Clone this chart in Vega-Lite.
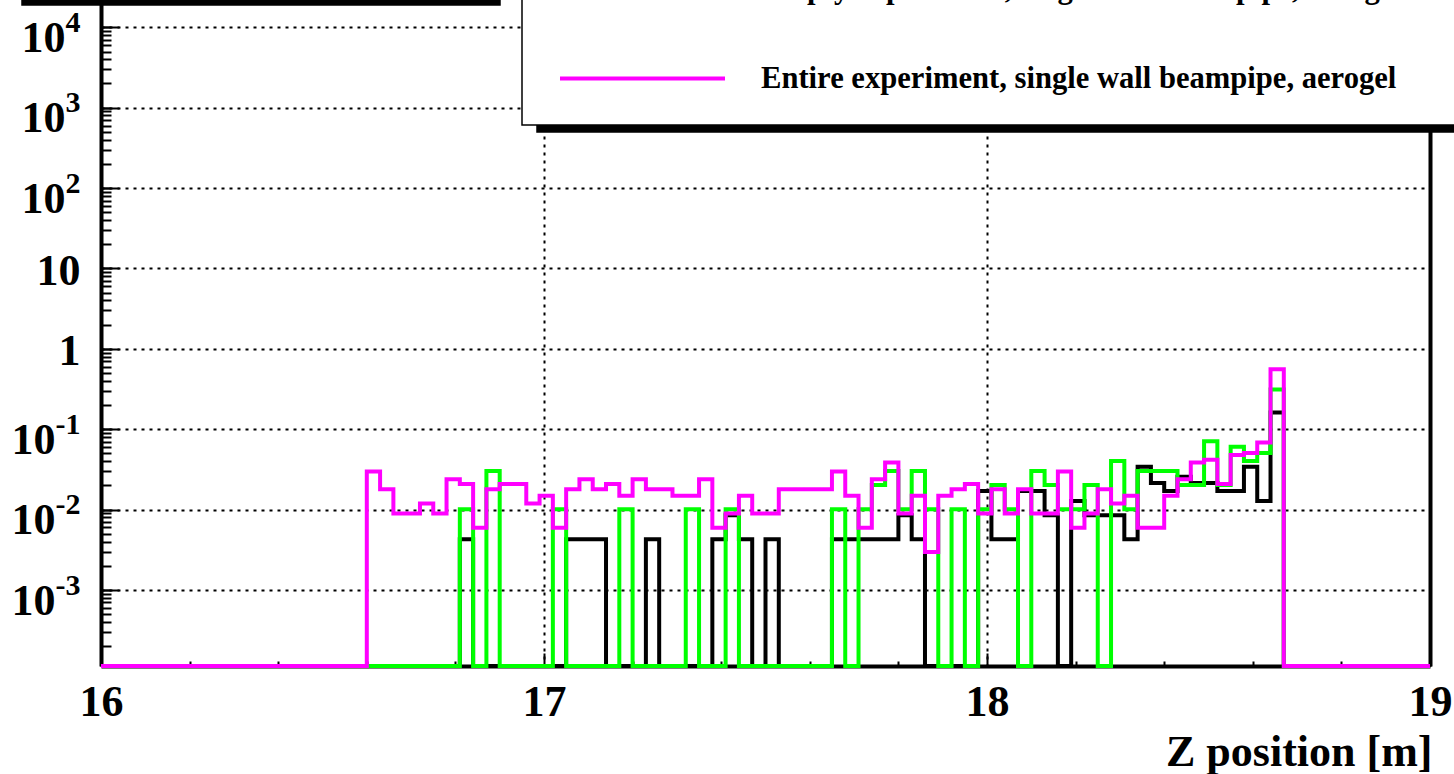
{
"$schema": "https://vega.github.io/schema/vega-lite/v6.json",
"autosize": "none",
"width": 1329,
"height": 666,
"padding": {"left": 101, "top": 0, "right": 24, "bottom": 108},
"background": "white",
"config": {"view": {"stroke": null}, "font": "Liberation Serif", "legend": {"strokeWidth": 1.5}},
"data": {"values": [
{"z":16.00,"s":"k","v":0},{"z":16.03,"s":"k","v":0},{"z":16.06,"s":"k","v":0},{"z":16.09,"s":"k","v":0},{"z":16.12,"s":"k","v":0},{"z":16.15,"s":"k","v":0},{"z":16.18,"s":"k","v":0},{"z":16.21,"s":"k","v":0},{"z":16.24,"s":"k","v":0},{"z":16.27,"s":"k","v":0},
{"z":16.30,"s":"k","v":0},{"z":16.33,"s":"k","v":0},{"z":16.36,"s":"k","v":0},{"z":16.39,"s":"k","v":0},{"z":16.42,"s":"k","v":0},{"z":16.45,"s":"k","v":0},{"z":16.48,"s":"k","v":0},{"z":16.51,"s":"k","v":0},{"z":16.54,"s":"k","v":0},{"z":16.57,"s":"k","v":0},
{"z":16.60,"s":"k","v":0},{"z":16.63,"s":"k","v":0},{"z":16.66,"s":"k","v":0},{"z":16.69,"s":"k","v":0},{"z":16.72,"s":"k","v":0},{"z":16.75,"s":"k","v":0},{"z":16.78,"s":"k","v":0},{"z":16.81,"s":"k","v":0.00427},{"z":16.84,"s":"k","v":0},{"z":16.87,"s":"k","v":0},
{"z":16.90,"s":"k","v":0},{"z":16.93,"s":"k","v":0},{"z":16.96,"s":"k","v":0},{"z":16.99,"s":"k","v":0},{"z":17.02,"s":"k","v":0},{"z":17.05,"s":"k","v":0.00427},{"z":17.08,"s":"k","v":0.00427},{"z":17.11,"s":"k","v":0.00427},{"z":17.14,"s":"k","v":0},{"z":17.17,"s":"k","v":0},
{"z":17.20,"s":"k","v":0},{"z":17.23,"s":"k","v":0.00427},{"z":17.26,"s":"k","v":0},{"z":17.29,"s":"k","v":0},{"z":17.32,"s":"k","v":0},{"z":17.35,"s":"k","v":0},{"z":17.38,"s":"k","v":0.00427},{"z":17.41,"s":"k","v":0.00854},{"z":17.44,"s":"k","v":0.00427},{"z":17.47,"s":"k","v":0},
{"z":17.50,"s":"k","v":0.00427},{"z":17.53,"s":"k","v":0},{"z":17.56,"s":"k","v":0},{"z":17.59,"s":"k","v":0},{"z":17.62,"s":"k","v":0},{"z":17.65,"s":"k","v":0.00427},{"z":17.68,"s":"k","v":0.00427},{"z":17.71,"s":"k","v":0.00427},{"z":17.74,"s":"k","v":0.00427},{"z":17.77,"s":"k","v":0.00427},
{"z":17.80,"s":"k","v":0.00854},{"z":17.83,"s":"k","v":0.00427},{"z":17.86,"s":"k","v":0},{"z":17.89,"s":"k","v":0},{"z":17.92,"s":"k","v":0},{"z":17.95,"s":"k","v":0},{"z":17.98,"s":"k","v":0.0171},{"z":18.01,"s":"k","v":0.00427},{"z":18.04,"s":"k","v":0.00427},{"z":18.07,"s":"k","v":0.0171},
{"z":18.10,"s":"k","v":0.0171},{"z":18.13,"s":"k","v":0.00854},{"z":18.16,"s":"k","v":0},{"z":18.19,"s":"k","v":0.0128},{"z":18.22,"s":"k","v":0.00854},{"z":18.25,"s":"k","v":0.00854},{"z":18.28,"s":"k","v":0.00854},{"z":18.31,"s":"k","v":0.00427},{"z":18.34,"s":"k","v":0.0342},{"z":18.37,"s":"k","v":0.0214},
{"z":18.40,"s":"k","v":0.0171},{"z":18.43,"s":"k","v":0.0256},{"z":18.46,"s":"k","v":0.0214},{"z":18.49,"s":"k","v":0.0214},{"z":18.52,"s":"k","v":0.0171},{"z":18.55,"s":"k","v":0.0171},{"z":18.58,"s":"k","v":0.0342},{"z":18.61,"s":"k","v":0.0128},{"z":18.64,"s":"k","v":0.162},{"z":18.67,"s":"k","v":0},
{"z":18.70,"s":"k","v":0},{"z":18.73,"s":"k","v":0},{"z":18.76,"s":"k","v":0},{"z":18.79,"s":"k","v":0},{"z":18.82,"s":"k","v":0},{"z":18.85,"s":"k","v":0},{"z":18.88,"s":"k","v":0},{"z":18.91,"s":"k","v":0},{"z":18.94,"s":"k","v":0},{"z":18.97,"s":"k","v":0},{"z":19.00,"s":"k","v":0},
{"z":16.00,"s":"g","v":0},{"z":16.03,"s":"g","v":0},{"z":16.06,"s":"g","v":0},{"z":16.09,"s":"g","v":0},{"z":16.12,"s":"g","v":0},{"z":16.15,"s":"g","v":0},{"z":16.18,"s":"g","v":0},{"z":16.21,"s":"g","v":0},{"z":16.24,"s":"g","v":0},{"z":16.27,"s":"g","v":0},
{"z":16.30,"s":"g","v":0},{"z":16.33,"s":"g","v":0},{"z":16.36,"s":"g","v":0},{"z":16.39,"s":"g","v":0},{"z":16.42,"s":"g","v":0},{"z":16.45,"s":"g","v":0},{"z":16.48,"s":"g","v":0},{"z":16.51,"s":"g","v":0},{"z":16.54,"s":"g","v":0},{"z":16.57,"s":"g","v":0},
{"z":16.60,"s":"g","v":0},{"z":16.63,"s":"g","v":0},{"z":16.66,"s":"g","v":0},{"z":16.69,"s":"g","v":0},{"z":16.72,"s":"g","v":0},{"z":16.75,"s":"g","v":0},{"z":16.78,"s":"g","v":0},{"z":16.81,"s":"g","v":0.0101},{"z":16.84,"s":"g","v":0},{"z":16.87,"s":"g","v":0.0303},
{"z":16.90,"s":"g","v":0},{"z":16.93,"s":"g","v":0},{"z":16.96,"s":"g","v":0},{"z":16.99,"s":"g","v":0},{"z":17.02,"s":"g","v":0.0101},{"z":17.05,"s":"g","v":0},{"z":17.08,"s":"g","v":0},{"z":17.11,"s":"g","v":0},{"z":17.14,"s":"g","v":0},{"z":17.17,"s":"g","v":0.0101},
{"z":17.20,"s":"g","v":0},{"z":17.23,"s":"g","v":0},{"z":17.26,"s":"g","v":0},{"z":17.29,"s":"g","v":0},{"z":17.32,"s":"g","v":0.0101},{"z":17.35,"s":"g","v":0},{"z":17.38,"s":"g","v":0},{"z":17.41,"s":"g","v":0.0101},{"z":17.44,"s":"g","v":0},{"z":17.47,"s":"g","v":0},
{"z":17.50,"s":"g","v":0},{"z":17.53,"s":"g","v":0},{"z":17.56,"s":"g","v":0},{"z":17.59,"s":"g","v":0},{"z":17.62,"s":"g","v":0},{"z":17.65,"s":"g","v":0.0101},{"z":17.68,"s":"g","v":0},{"z":17.71,"s":"g","v":0.0101},{"z":17.74,"s":"g","v":0.0202},{"z":17.77,"s":"g","v":0.0303},
{"z":17.80,"s":"g","v":0.0101},{"z":17.83,"s":"g","v":0.0303},{"z":17.86,"s":"g","v":0.0101},{"z":17.89,"s":"g","v":0},{"z":17.92,"s":"g","v":0.0101},{"z":17.95,"s":"g","v":0},{"z":17.98,"s":"g","v":0.0101},{"z":18.01,"s":"g","v":0.0202},{"z":18.04,"s":"g","v":0.0101},{"z":18.07,"s":"g","v":0},
{"z":18.10,"s":"g","v":0.0303},{"z":18.13,"s":"g","v":0.0202},{"z":18.16,"s":"g","v":0.0101},{"z":18.19,"s":"g","v":0.0101},{"z":18.22,"s":"g","v":0.0202},{"z":18.25,"s":"g","v":0},{"z":18.28,"s":"g","v":0.0404},{"z":18.31,"s":"g","v":0.0101},{"z":18.34,"s":"g","v":0.0303},{"z":18.37,"s":"g","v":0.0303},
{"z":18.40,"s":"g","v":0.0303},{"z":18.43,"s":"g","v":0.0202},{"z":18.46,"s":"g","v":0.0202},{"z":18.49,"s":"g","v":0.0707},{"z":18.52,"s":"g","v":0.0202},{"z":18.55,"s":"g","v":0.0606},{"z":18.58,"s":"g","v":0.0404},{"z":18.61,"s":"g","v":0.0505},{"z":18.64,"s":"g","v":0.313},{"z":18.67,"s":"g","v":0},
{"z":18.70,"s":"g","v":0},{"z":18.73,"s":"g","v":0},{"z":18.76,"s":"g","v":0},{"z":18.79,"s":"g","v":0},{"z":18.82,"s":"g","v":0},{"z":18.85,"s":"g","v":0},{"z":18.88,"s":"g","v":0},{"z":18.91,"s":"g","v":0},{"z":18.94,"s":"g","v":0},{"z":18.97,"s":"g","v":0},{"z":19.00,"s":"g","v":0},
{"z":16.00,"s":"m","v":0},{"z":16.03,"s":"m","v":0},{"z":16.06,"s":"m","v":0},{"z":16.09,"s":"m","v":0},{"z":16.12,"s":"m","v":0},{"z":16.15,"s":"m","v":0},{"z":16.18,"s":"m","v":0},{"z":16.21,"s":"m","v":0},{"z":16.24,"s":"m","v":0},{"z":16.27,"s":"m","v":0},
{"z":16.30,"s":"m","v":0},{"z":16.33,"s":"m","v":0},{"z":16.36,"s":"m","v":0},{"z":16.39,"s":"m","v":0},{"z":16.42,"s":"m","v":0},{"z":16.45,"s":"m","v":0},{"z":16.48,"s":"m","v":0},{"z":16.51,"s":"m","v":0},{"z":16.54,"s":"m","v":0},{"z":16.57,"s":"m","v":0},
{"z":16.60,"s":"m","v":0.0298},{"z":16.63,"s":"m","v":0.0179},{"z":16.66,"s":"m","v":0.00894},{"z":16.69,"s":"m","v":0.00894},{"z":16.72,"s":"m","v":0.0119},{"z":16.75,"s":"m","v":0.00894},{"z":16.78,"s":"m","v":0.0238},{"z":16.81,"s":"m","v":0.0209},{"z":16.84,"s":"m","v":0.00596},{"z":16.87,"s":"m","v":0.0179},
{"z":16.90,"s":"m","v":0.0209},{"z":16.93,"s":"m","v":0.0209},{"z":16.96,"s":"m","v":0.0119},{"z":16.99,"s":"m","v":0.0149},{"z":17.02,"s":"m","v":0.00596},{"z":17.05,"s":"m","v":0.0179},{"z":17.08,"s":"m","v":0.0238},{"z":17.11,"s":"m","v":0.0179},{"z":17.14,"s":"m","v":0.0209},{"z":17.17,"s":"m","v":0.0149},
{"z":17.20,"s":"m","v":0.0238},{"z":17.23,"s":"m","v":0.0179},{"z":17.26,"s":"m","v":0.0179},{"z":17.29,"s":"m","v":0.0149},{"z":17.32,"s":"m","v":0.0149},{"z":17.35,"s":"m","v":0.0238},{"z":17.38,"s":"m","v":0.00596},{"z":17.41,"s":"m","v":0.00894},{"z":17.44,"s":"m","v":0.0149},{"z":17.47,"s":"m","v":0.00894},
{"z":17.50,"s":"m","v":0.00894},{"z":17.53,"s":"m","v":0.0179},{"z":17.56,"s":"m","v":0.0179},{"z":17.59,"s":"m","v":0.0179},{"z":17.62,"s":"m","v":0.0179},{"z":17.65,"s":"m","v":0.0298},{"z":17.68,"s":"m","v":0.0149},{"z":17.71,"s":"m","v":0.00596},{"z":17.74,"s":"m","v":0.0238},{"z":17.77,"s":"m","v":0.0387},
{"z":17.80,"s":"m","v":0.00894},{"z":17.83,"s":"m","v":0.0149},{"z":17.86,"s":"m","v":0.00298},{"z":17.89,"s":"m","v":0.0149},{"z":17.92,"s":"m","v":0.0179},{"z":17.95,"s":"m","v":0.0209},{"z":17.98,"s":"m","v":0.00894},{"z":18.01,"s":"m","v":0.0179},{"z":18.04,"s":"m","v":0.00894},{"z":18.07,"s":"m","v":0.0179},
{"z":18.10,"s":"m","v":0.00894},{"z":18.13,"s":"m","v":0.00894},{"z":18.16,"s":"m","v":0.0298},{"z":18.19,"s":"m","v":0.00596},{"z":18.22,"s":"m","v":0.00894},{"z":18.25,"s":"m","v":0.0179},{"z":18.28,"s":"m","v":0.0119},{"z":18.31,"s":"m","v":0.0149},{"z":18.34,"s":"m","v":0.00596},{"z":18.37,"s":"m","v":0.00596},
{"z":18.40,"s":"m","v":0.0149},{"z":18.43,"s":"m","v":0.0238},{"z":18.46,"s":"m","v":0.0387},{"z":18.49,"s":"m","v":0.0417},{"z":18.52,"s":"m","v":0.0209},{"z":18.55,"s":"m","v":0.0477},{"z":18.58,"s":"m","v":0.0507},{"z":18.61,"s":"m","v":0.0685},{"z":18.64,"s":"m","v":0.557},{"z":18.67,"s":"m","v":0},
{"z":18.70,"s":"m","v":0},{"z":18.73,"s":"m","v":0},{"z":18.76,"s":"m","v":0},{"z":18.79,"s":"m","v":0},{"z":18.82,"s":"m","v":0},{"z":18.85,"s":"m","v":0},{"z":18.88,"s":"m","v":0},{"z":18.91,"s":"m","v":0},{"z":18.94,"s":"m","v":0},{"z":18.97,"s":"m","v":0},{"z":19.00,"s":"m","v":0}
]},
"encoding": {
  "x": {"field": "z", "type": "quantitative", "scale": {"domain": [16, 19], "nice": false, "zero": false}},
  "y": {"field": "v", "type": "quantitative", "scale": {"type": "log", "domain": [0.00011343, 21860], "nice": false, "clamp": true}},
  "color": {"field": "s", "type": "nominal", "scale": {"domain": ["k", "g", "m"], "range": ["#000000", "#00ff00", "#ff00ff"]},
    "legend": {
      "orient": "none", "legendX": 421, "legendY": -254, "direction": "vertical",
      "title": "\u2014\u2014\u2014\u2014\u2014\u2014\u2014\u2014\u2014\u2014\u2014\u2014",
      "titleFontSize": 100, "titleLimit": 3000, "titleColor": "white",
      "symbolType": "M-5,0H5", "symbolSize": 1089, "symbolStrokeWidth": 4, "symbolOffset": 72,
      "labelFont": "Liberation Serif", "labelFontWeight": "bold", "labelFontSize": 30.6, "labelColor": "black", "labelLimit": 2000, "labelOffset": 100,
      "padding": 30, "rowPadding": 54.5, "fillColor": "white", "strokeColor": "black", "zindex": 3,
      "labelExpr": "datum.value == 'k' ? 'Entire experiment, double wall beampipe, aerogel' : datum.value == 'g' ? 'Empty experiment, single wall beampipe, aerogel' : 'Entire experiment, single wall beampipe, aerogel'"
    }}
},
"layer": [
  {
    "transform": [{"filter": "datum.s == 'k'"}],
    "mark": {"type": "line", "interpolate": "step-after", "strokeWidth": 4, "invalid": "show"},
    "encoding": {
      "x": {"field": "z", "type": "quantitative", "title": "Z position [m]",
        "axis": {"orient": "bottom", "values": [16, 17, 18, 19], "format": "d", "tickSize": -13, "tickWidth": 2, "tickColor": "black",
          "labelFont": "Liberation Serif", "labelFontWeight": "bold", "labelFontSize": 44, "labelColor": "black", "labelPadding": 27, "labelFlush": false, "labelOverlap": false,
          "domainColor": "black", "domainWidth": 4,
          "grid": true, "gridColor": "black", "gridDash": [3, 5], "gridWidth": 2,
          "titleFont": "Liberation Serif", "titleFontWeight": "bold", "titleFontSize": 44, "titleColor": "black",
          "titleAnchor": "end", "titleAlign": "right", "titleBaseline": "alphabetic", "titleX": 1331, "titleY": 99}},
      "y": {"field": "v", "type": "quantitative", "title": null,
        "axis": {"orient": "left", "values": [0.001, 0.01, 0.1, 1, 10, 100, 1000, 10000], "tickSize": -18, "tickWidth": 2, "tickColor": "black",
          "labelExpr": "round(log(datum.value)/LN10) == 0 ? '1' : '10'",
          "labelFont": "Liberation Serif", "labelFontWeight": "bold", "labelFontSize": 44, "labelColor": "black", "labelAlign": "right", "labelBaseline": "middle",
          "labelPadding": {"condition": [{"test": "round(log(datum.value)/LN10) < 0", "value": 64}, {"test": "round(log(datum.value)/LN10) >= 2", "value": 54}], "value": 39},
          "labelOffset": {"condition": {"test": "round(log(datum.value)/LN10) < 0 || round(log(datum.value)/LN10) >= 2", "value": 11}, "value": 3},
          "labelFlush": false, "labelOverlap": false,
          "domainColor": "black", "domainWidth": 4,
          "grid": true, "gridColor": "black", "gridDash": [3, 5], "gridWidth": 2}}
    }
  },
  {
    "transform": [{"filter": "datum.s == 'g'"}],
    "mark": {"type": "line", "interpolate": "step-after", "strokeWidth": 4, "invalid": "show"},
    "encoding": {
      "x": {"field": "z", "type": "quantitative", "title": null,
        "axis": {"orient": "bottom", "values": [16.2, 16.4, 16.6, 16.8, 17.2, 17.4, 17.6, 17.8, 18.2, 18.4, 18.6, 18.8], "tickSize": -5, "tickWidth": 2, "tickColor": "black",
          "labels": false, "domain": false, "grid": false}},
      "y": {"field": "v", "type": "quantitative", "title": null,
        "axis": {"orient": "left", "values": [0.0002,0.0003,0.0004,0.0005,0.0006,0.0007,0.0008,0.0009,0.001,0.002,0.003,0.004,0.005,0.006,0.007,0.008,0.009,0.01,0.02,0.03,0.04,0.05,0.06,0.07,0.08,0.09,0.1,0.2,0.3,0.4,0.5,0.6,0.7,0.8,0.9,1,2,3,4,5,6,7,8,9,10,20,30,40,50,60,70,80,90,100,200,300,400,500,600,700,800,900,1000,2000,3000,4000,5000,6000,7000,8000,9000,10000,20000],
          "tickSize": -10, "tickWidth": 2, "tickColor": "black",
          "labelExpr": "abs(datum.value / pow(10, round(log(datum.value)/LN10)) - 1) < 0.000001 && round(log(datum.value)/LN10) != 0 && round(log(datum.value)/LN10) != 1 ? (round(log(datum.value)/LN10) < 0 ? '-' + abs(round(log(datum.value)/LN10)) : '' + round(log(datum.value)/LN10)) : ''",
          "labelFont": "Liberation Serif", "labelFontWeight": "bold", "labelFontSize": 30, "labelColor": "black", "labelAlign": "right", "labelBaseline": "middle",
          "labelPadding": 31, "labelOffset": -5, "labelFlush": false, "labelOverlap": false,
          "domain": false, "grid": false}}
    }
  },
  {
    "transform": [{"filter": "datum.s == 'm'"}],
    "mark": {"type": "line", "interpolate": "step-after", "strokeWidth": 4, "invalid": "show"},
    "encoding": {
      "x": {"field": "z", "type": "quantitative", "title": null, "axis": null},
      "y": {"field": "v", "type": "quantitative", "title": null,
        "axis": {"orient": "right", "ticks": false, "labels": false, "grid": false, "domainColor": "black", "domainWidth": 4}},
      "strokeDash": {"datum": "shadow", "type": "nominal", "scale": {"domain": ["shadow"], "range": [[1, 0]]},
        "legend": {"orient": "none", "legendX": 436, "legendY": -868, "title": null, "padding": 0,
          "symbolType": "square", "symbolSize": 1000000, "symbolFillColor": "black", "symbolStrokeColor": "black", "symbolStrokeWidth": 0,
          "labelExpr": "''", "labelOffset": 0, "fillColor": "black", "strokeColor": "black", "zindex": 1}},
      "opacity": {"datum": "bar", "type": "nominal", "scale": {"domain": ["bar"], "range": [1]},
        "legend": {"orient": "none", "legendX": -79, "legendY": -473, "title": null, "padding": 0,
          "symbolType": "square", "symbolSize": 228484, "symbolFillColor": "black", "symbolStrokeColor": "black", "symbolStrokeWidth": 0, "symbolOpacity": 1,
          "labelExpr": "''", "labelOffset": 0, "fillColor": "black", "strokeColor": "black", "zindex": 1}}
    }
  }
],
"resolve": {"axis": {"x": "independent", "y": "independent"}}
}
